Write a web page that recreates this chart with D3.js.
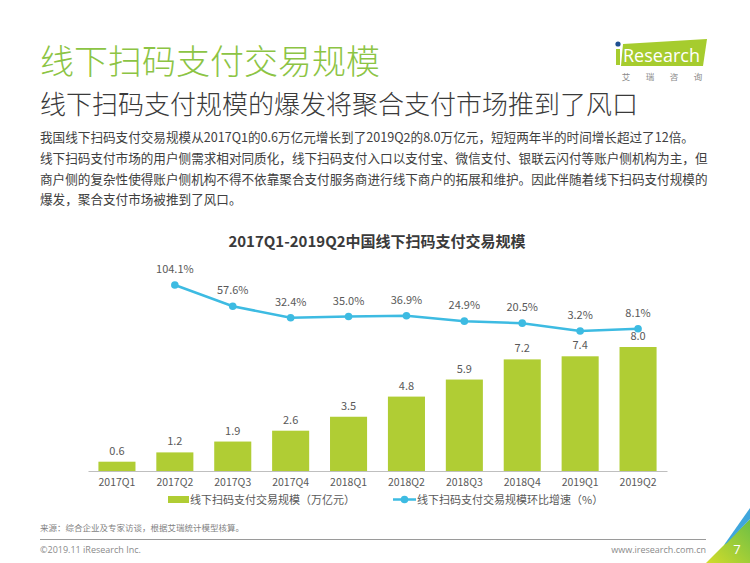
<!DOCTYPE html>
<html><head><meta charset="utf-8">
<script src="https://cdn.jsdelivr.net/npm/d3@7"></script>
<style>
html,body{margin:0;padding:0;background:#fff;}
svg{display:block;font-family:"Noto Sans CJK SC","Noto Sans",sans-serif;}
</style></head>
<body>
<svg id="c" width="750" height="563"></svg>
<script>
const categories = ['2017Q1','2017Q2','2017Q3','2017Q4','2018Q1','2018Q2','2018Q3','2018Q4','2019Q1','2019Q2'];
const scaleValues = [0.6,1.2,1.9,2.6,3.5,4.8,5.9,7.2,7.4,8.0];
const growthValues = [null,104.1,57.6,32.4,35.0,36.9,24.9,20.5,3.2,8.1];
const seriesNames = ['线下扫码支付交易规模（万亿元）','线下扫码支付交易规模环比增速（%）'];
const paragraph = [
  '我国线下扫码支付交易规模从2017Q1的0.6万亿元增长到了2019Q2的8.0万亿元，短短两年半的时间增长超过了12倍。',
  '线下扫码支付市场的用户侧需求相对同质化，线下扫码支付入口以支付宝、微信支付、银联云闪付等账户侧机构为主，但',
  '商户侧的复杂性使得账户侧机构不得不依靠聚合支付服务商进行线下商户的拓展和维护。因此伴随着线下扫码支付规模的',
  '爆发，聚合支付市场被推到了风口。'
];

const svg = d3.select('#c');
const BAR = '#b0cd34', LINE = '#3dbbe2', TXT = '#595959';

// Header
svg.append('text').attr('x',40).attr('y',74).attr('font-size',34).attr('font-weight',300)
  .attr('fill','#8cc444').text('线下扫码支付交易规模');
svg.append('text').attr('x',40).attr('y',114).attr('font-size',26).attr('font-weight',300)
  .attr('fill','#3a3a3a').text('线下扫码支付规模的爆发将聚合支付市场推到了风口');
paragraph.forEach((t,i)=>{
  svg.append('text').attr('x',40).attr('y',142+i*20.8).attr('font-size',12.6)
    .attr('fill','#404040').text(t);
});

// Logo
const logo = svg.append('g');
logo.append('path').attr('d','M623,44 L707,39 L703,66 L621,66 Z').attr('fill','#a6cc2e');
logo.append('rect').attr('x',616).attr('y',49).attr('width',4).attr('height',16).attr('fill','#a6cc2e');
logo.append('circle').attr('cx',618).attr('cy',44).attr('r',2.6).attr('fill','#1d4f91');
logo.append('text').attr('x',623).attr('y',62).attr('font-size',18).attr('fill','#fff')
  .attr('font-family','"Open Sans",sans-serif').text('Research');
['艾','瑞','咨','询'].forEach((c,i)=>{
  logo.append('text').attr('x',626+i*24).attr('y',80).attr('font-size',8.5).attr('fill','#8a8a8a')
    .attr('text-anchor','middle').text(c);
});

// Chart title
svg.append('text').attr('x',377).attr('y',247).attr('text-anchor','middle').attr('font-size',15)
  .attr('font-weight',700).attr('fill','#3a3a3a').text('2017Q1-2019Q2中国线下扫码支付交易规模');

// Scales
const x = d3.scaleBand().domain(categories).range([88,667]).paddingInner(0.36).paddingOuter(0.18);
const y = d3.scaleLinear().domain([0,10]).range([471,316]);
const y2 = d3.scaleLinear().domain([0,120]).range([332.5,277.8]);

// Bars
svg.append('g').selectAll('rect').data(scaleValues).join('rect')
  .attr('x',(d,i)=>x(categories[i])).attr('y',d=>y(d))
  .attr('width',x.bandwidth()).attr('height',d=>y(0)-y(d)).attr('fill',BAR);
svg.append('g').selectAll('text').data(scaleValues).join('text')
  .attr('x',(d,i)=>x(categories[i])+x.bandwidth()/2).attr('y',d=>y(d)-7)
  .attr('text-anchor','middle').attr('font-size',11).attr('fill',TXT)
  .text(d=>d.toFixed(1));

// Axis
const ax = svg.append('g').attr('transform','translate(0,471)')
  .call(d3.axisBottom(x).tickSize(0).tickPadding(8));
ax.select('.domain').attr('stroke','#bfbfbf').attr('stroke-width',1);
ax.selectAll('text').attr('font-size',10.5).attr('fill',TXT)
  .attr('font-family','"Noto Sans CJK SC","Noto Sans",sans-serif');

// Line
const pts = growthValues.map((v,i)=>({v,c:categories[i]})).filter(d=>d.v!==null);
const line = d3.line().x(d=>x(d.c)+x.bandwidth()/2).y(d=>y2(d.v));
svg.append('path').datum(pts).attr('d',line).attr('fill','none')
  .attr('stroke',LINE).attr('stroke-width',2.5);
svg.append('g').selectAll('circle').data(pts).join('circle')
  .attr('cx',d=>x(d.c)+x.bandwidth()/2).attr('cy',d=>y2(d.v)).attr('r',3.8).attr('fill',LINE);
svg.append('g').selectAll('text').data(pts).join('text')
  .attr('x',d=>x(d.c)+x.bandwidth()/2).attr('y',d=>y2(d.v)-12)
  .attr('text-anchor','middle').attr('font-size',11).attr('fill',TXT)
  .text(d=>d.v.toFixed(1)+'%');

// Legend
const lg = svg.append('g');
lg.append('rect').attr('x',168).attr('y',496).attr('width',21).attr('height',7).attr('fill',BAR);
lg.append('text').attr('x',190).attr('y',503.5).attr('font-size',11).attr('fill',TXT).text(seriesNames[0]);
lg.append('line').attr('x1',393).attr('x2',416).attr('y1',499.5).attr('y2',499.5)
  .attr('stroke',LINE).attr('stroke-width',2.5);
lg.append('circle').attr('cx',404.5).attr('cy',499.5).attr('r',3.8).attr('fill',LINE);
lg.append('text').attr('x',417).attr('y',503.5).attr('font-size',11).attr('fill',TXT).text(seriesNames[1]);

// Footer
svg.append('text').attr('x',40).attr('y',531).attr('font-size',8.5).attr('fill','#7f7f7f')
  .text('来源：综合企业及专家访谈，根据艾瑞统计模型核算。');
svg.append('line').attr('x1',40).attr('x2',706).attr('y1',539.5).attr('y2',539.5)
  .attr('stroke','#9a9a9a').attr('stroke-width',1);
svg.append('text').attr('x',40).attr('y',553).attr('font-size',9).attr('fill','#8a8a8a')
  .attr('font-family','"Open Sans",sans-serif').text('©2019.11 iResearch Inc.');
svg.append('text').attr('x',706).attr('y',553).attr('text-anchor','end').attr('font-size',9)
  .attr('fill','#8a8a8a').attr('font-family','"Open Sans",sans-serif').text('www.iresearch.com.cn');

// Corner decoration
const defs = svg.append('defs');
const gr = defs.append('linearGradient').attr('id','cg').attr('x1','0').attr('y1','1').attr('x2','1').attr('y2','0');
gr.append('stop').attr('offset','0').attr('stop-color','#d3dc2a');
gr.append('stop').attr('offset','1').attr('stop-color','#6cbf45');
svg.append('path').attr('d','M706,563 L750,519 L750,563 Z').attr('fill','url(#cg)');
svg.append('path').attr('d','M724,545 L750,508 L750,519 L727,543 Z').attr('fill','#3fa6dc');
svg.append('text').attr('x',737).attr('y',554).attr('text-anchor','middle').attr('font-size',13)
  .attr('fill','#fff').attr('font-family','"Open Sans",sans-serif').text('7');
</script>
</body></html>
